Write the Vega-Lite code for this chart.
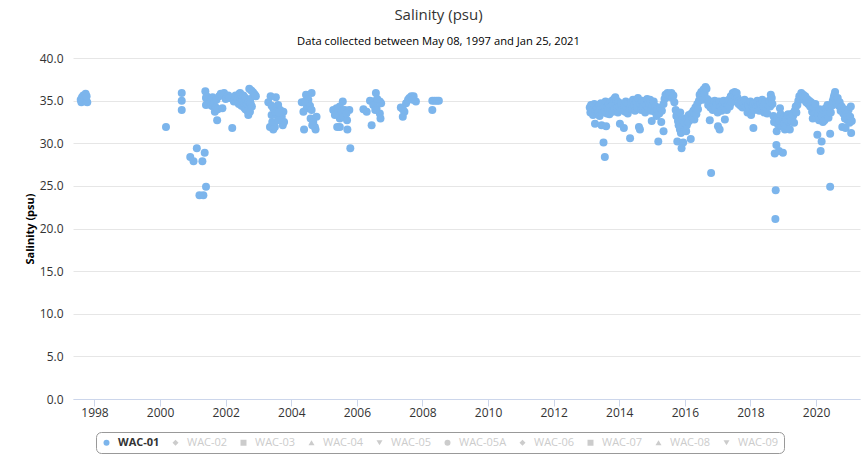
{
  "$schema": "https://vega.github.io/schema/vega-lite/v6.json",
  "width": 787,
  "height": 341,
  "autosize": "none",
  "padding": {"left": 73, "top": 58, "right": 7, "bottom": 60},
  "background": "white",
  "title": {
    "text": "Salinity (psu)",
    "subtitle": "Data collected between May 08, 1997 and Jan 25, 2021",
    "anchor": "middle",
    "dx": -28,
    "offset": 5,
    "font": "Open Sans",
    "fontSize": 15,
    "fontWeight": "normal",
    "color": "#333333",
    "subtitleFont": "Open Sans",
    "subtitleFontSize": 11.2,
    "subtitleColor": "#000000",
    "subtitlePadding": 13
  },
  "config": {
    "view": {"stroke": null},
    "font": "Open Sans",
    "axis": {"gridColor": "#e6e6e6", "labelColor": "#333333", "labelFont": "Open Sans", "labelFontSize": 12}
  },
  "data": {"values": [
    {"t":1997.58,"v":35.1,"s":"WAC-01"},{"t":1997.6,"v":34.8,"s":"WAC-01"},{"t":1997.62,"v":35.4,"s":"WAC-01"},{"t":1997.64,"v":35.0,"s":"WAC-01"},{"t":1997.66,"v":35.6,"s":"WAC-01"},{"t":1997.7,"v":35.2,"s":"WAC-01"},{"t":1997.73,"v":35.8,"s":"WAC-01"},{"t":1997.75,"v":34.9,"s":"WAC-01"},{"t":1997.78,"v":34.8,"s":"WAC-01"},{"t":1997.76,"v":35.5,"s":"WAC-01"},
    {"t":2000.18,"v":31.9,"s":"WAC-01"},{"t":2000.66,"v":35.9,"s":"WAC-01"},{"t":2000.66,"v":35.0,"s":"WAC-01"},{"t":2000.66,"v":33.9,"s":"WAC-01"},
    {"t":2000.92,"v":28.4,"s":"WAC-01"},{"t":2001.02,"v":27.9,"s":"WAC-01"},{"t":2001.12,"v":29.4,"s":"WAC-01"},{"t":2001.29,"v":27.9,"s":"WAC-01"},{"t":2001.36,"v":28.9,"s":"WAC-01"},{"t":2001.2,"v":23.9,"s":"WAC-01"},{"t":2001.32,"v":23.9,"s":"WAC-01"},{"t":2001.4,"v":24.9,"s":"WAC-01"},
    {"t":2001.38,"v":36.1,"s":"WAC-01"},{"t":2001.4,"v":35.3,"s":"WAC-01"},{"t":2001.42,"v":35.5,"s":"WAC-01"},{"t":2001.44,"v":34.6,"s":"WAC-01"},{"t":2001.46,"v":34.9,"s":"WAC-01"},{"t":2001.48,"v":35.2,"s":"WAC-01"},{"t":2001.4,"v":34.5,"s":"WAC-01"},{"t":2001.5,"v":34.7,"s":"WAC-01"},{"t":2001.52,"v":35.0,"s":"WAC-01"},{"t":2001.55,"v":35.1,"s":"WAC-01"},{"t":2001.57,"v":34.4,"s":"WAC-01"},{"t":2001.6,"v":35.4,"s":"WAC-01"},{"t":2001.62,"v":34.3,"s":"WAC-01"},{"t":2001.64,"v":34.8,"s":"WAC-01"},{"t":2001.67,"v":33.7,"s":"WAC-01"},{"t":2001.7,"v":34.2,"s":"WAC-01"},{"t":2001.72,"v":35.1,"s":"WAC-01"},{"t":2001.74,"v":32.7,"s":"WAC-01"},{"t":2001.76,"v":34.0,"s":"WAC-01"},{"t":2001.8,"v":35.5,"s":"WAC-01"},{"t":2001.85,"v":35.8,"s":"WAC-01"},{"t":2001.9,"v":34.1,"s":"WAC-01"},{"t":2001.95,"v":35.9,"s":"WAC-01"},{"t":2002.0,"v":35.2,"s":"WAC-01"},{"t":2002.03,"v":35.3,"s":"WAC-01"},{"t":2002.08,"v":35.6,"s":"WAC-01"},{"t":2002.11,"v":35.3,"s":"WAC-01"},{"t":2002.2,"v":31.8,"s":"WAC-01"},
    {"t":2002.25,"v":34.9,"s":"WAC-01"},{"t":2002.28,"v":35.1,"s":"WAC-01"},{"t":2002.3,"v":35.6,"s":"WAC-01"},{"t":2002.33,"v":34.9,"s":"WAC-01"},{"t":2002.35,"v":35.3,"s":"WAC-01"},{"t":2002.38,"v":35.5,"s":"WAC-01"},{"t":2002.4,"v":34.6,"s":"WAC-01"},{"t":2002.42,"v":35.8,"s":"WAC-01"},{"t":2002.44,"v":35.9,"s":"WAC-01"},{"t":2002.44,"v":34.7,"s":"WAC-01"},{"t":2002.46,"v":35.2,"s":"WAC-01"},{"t":2002.48,"v":34.4,"s":"WAC-01"},{"t":2002.49,"v":34.9,"s":"WAC-01"},{"t":2002.5,"v":35.6,"s":"WAC-01"},{"t":2002.52,"v":35.0,"s":"WAC-01"},{"t":2002.54,"v":34.5,"s":"WAC-01"},{"t":2002.54,"v":35.6,"s":"WAC-01"},{"t":2002.56,"v":34.2,"s":"WAC-01"},{"t":2002.57,"v":35.4,"s":"WAC-01"},{"t":2002.59,"v":35.3,"s":"WAC-01"},{"t":2002.6,"v":34.0,"s":"WAC-01"},{"t":2002.62,"v":34.8,"s":"WAC-01"},{"t":2002.64,"v":34.1,"s":"WAC-01"},{"t":2002.64,"v":35.0,"s":"WAC-01"},{"t":2002.66,"v":33.8,"s":"WAC-01"},{"t":2002.67,"v":34.6,"s":"WAC-01"},{"t":2002.69,"v":33.3,"s":"WAC-01"},{"t":2002.7,"v":34.9,"s":"WAC-01"},{"t":2002.72,"v":36.4,"s":"WAC-01"},{"t":2002.74,"v":33.7,"s":"WAC-01"},{"t":2002.75,"v":35.2,"s":"WAC-01"},{"t":2002.76,"v":34.7,"s":"WAC-01"},{"t":2002.78,"v":36.2,"s":"WAC-01"},{"t":2002.8,"v":34.3,"s":"WAC-01"},{"t":2002.83,"v":36.0,"s":"WAC-01"},{"t":2002.86,"v":35.8,"s":"WAC-01"},{"t":2002.89,"v":35.7,"s":"WAC-01"},{"t":2002.92,"v":35.5,"s":"WAC-01"},
    {"t":2003.37,"v":35.5,"s":"WAC-01"},{"t":2003.53,"v":35.4,"s":"WAC-01"},{"t":2003.3,"v":34.8,"s":"WAC-01"},{"t":2003.6,"v":34.5,"s":"WAC-01"},{"t":2003.45,"v":34.1,"s":"WAC-01"},{"t":2003.66,"v":33.9,"s":"WAC-01"},{"t":2003.76,"v":33.7,"s":"WAC-01"},{"t":2003.4,"v":33.3,"s":"WAC-01"},{"t":2003.55,"v":33.3,"s":"WAC-01"},{"t":2003.71,"v":33.1,"s":"WAC-01"},{"t":2003.35,"v":31.9,"s":"WAC-01"},{"t":2003.45,"v":31.6,"s":"WAC-01"},{"t":2003.5,"v":31.9,"s":"WAC-01"},{"t":2003.74,"v":32.1,"s":"WAC-01"},{"t":2003.78,"v":32.5,"s":"WAC-01"},{"t":2003.42,"v":32.5,"s":"WAC-01"},{"t":2003.6,"v":32.7,"s":"WAC-01"},{"t":2003.5,"v":33.7,"s":"WAC-01"},{"t":2003.4,"v":34.4,"s":"WAC-01"},{"t":2003.62,"v":33.6,"s":"WAC-01"},
    {"t":2004.45,"v":35.7,"s":"WAC-01"},{"t":2004.62,"v":35.9,"s":"WAC-01"},{"t":2004.32,"v":34.8,"s":"WAC-01"},{"t":2004.52,"v":35.1,"s":"WAC-01"},{"t":2004.47,"v":34.1,"s":"WAC-01"},{"t":2004.57,"v":34.4,"s":"WAC-01"},{"t":2004.62,"v":33.9,"s":"WAC-01"},{"t":2004.37,"v":33.7,"s":"WAC-01"},{"t":2004.59,"v":32.9,"s":"WAC-01"},{"t":2004.77,"v":33.1,"s":"WAC-01"},{"t":2004.67,"v":32.5,"s":"WAC-01"},{"t":2004.72,"v":31.9,"s":"WAC-01"},{"t":2004.74,"v":31.6,"s":"WAC-01"},{"t":2004.39,"v":31.6,"s":"WAC-01"},{"t":2004.64,"v":32.1,"s":"WAC-01"},{"t":2004.42,"v":34.9,"s":"WAC-01"},
    {"t":2005.57,"v":34.9,"s":"WAC-01"},{"t":2005.48,"v":34.3,"s":"WAC-01"},{"t":2005.28,"v":33.9,"s":"WAC-01"},{"t":2005.38,"v":34.1,"s":"WAC-01"},{"t":2005.43,"v":33.5,"s":"WAC-01"},{"t":2005.53,"v":33.7,"s":"WAC-01"},{"t":2005.63,"v":33.9,"s":"WAC-01"},{"t":2005.77,"v":33.9,"s":"WAC-01"},{"t":2005.48,"v":32.9,"s":"WAC-01"},{"t":2005.58,"v":33.1,"s":"WAC-01"},{"t":2005.7,"v":32.7,"s":"WAC-01"},{"t":2005.4,"v":31.9,"s":"WAC-01"},{"t":2005.48,"v":31.9,"s":"WAC-01"},{"t":2005.71,"v":31.6,"s":"WAC-01"},{"t":2005.8,"v":29.4,"s":"WAC-01"},{"t":2005.33,"v":33.3,"s":"WAC-01"},{"t":2005.68,"v":33.5,"s":"WAC-01"},
    {"t":2006.58,"v":35.9,"s":"WAC-01"},{"t":2006.5,"v":34.9,"s":"WAC-01"},{"t":2006.4,"v":35.0,"s":"WAC-01"},{"t":2006.7,"v":34.9,"s":"WAC-01"},{"t":2006.2,"v":34.0,"s":"WAC-01"},{"t":2006.3,"v":33.7,"s":"WAC-01"},{"t":2006.5,"v":34.5,"s":"WAC-01"},{"t":2006.6,"v":34.1,"s":"WAC-01"},{"t":2006.74,"v":34.7,"s":"WAC-01"},{"t":2006.7,"v":33.5,"s":"WAC-01"},{"t":2006.72,"v":32.9,"s":"WAC-01"},{"t":2006.45,"v":32.1,"s":"WAC-01"},{"t":2006.56,"v":33.9,"s":"WAC-01"},{"t":2006.62,"v":35.2,"s":"WAC-01"},
    {"t":2007.4,"v":33.1,"s":"WAC-01"},{"t":2007.34,"v":34.2,"s":"WAC-01"},{"t":2007.45,"v":33.7,"s":"WAC-01"},{"t":2007.5,"v":34.7,"s":"WAC-01"},{"t":2007.56,"v":35.1,"s":"WAC-01"},{"t":2007.6,"v":35.3,"s":"WAC-01"},{"t":2007.66,"v":35.5,"s":"WAC-01"},{"t":2007.73,"v":35.5,"s":"WAC-01"},{"t":2007.8,"v":34.9,"s":"WAC-01"},{"t":2007.7,"v":35.1,"s":"WAC-01"},{"t":2007.4,"v":34.0,"s":"WAC-01"},
    {"t":2008.3,"v":35.0,"s":"WAC-01"},{"t":2008.37,"v":35.0,"s":"WAC-01"},{"t":2008.44,"v":35.0,"s":"WAC-01"},{"t":2008.5,"v":35.0,"s":"WAC-01"},{"t":2008.3,"v":33.9,"s":"WAC-01"},
    {"t":2013.10,"v":34.2,"s":"WAC-01"},{"t":2013.12,"v":33.6,"s":"WAC-01"},{"t":2013.14,"v":34.5,"s":"WAC-01"},{"t":2013.16,"v":33.9,"s":"WAC-01"},{"t":2013.18,"v":34.4,"s":"WAC-01"},{"t":2013.20,"v":33.3,"s":"WAC-01"},{"t":2013.22,"v":34.0,"s":"WAC-01"},{"t":2013.24,"v":34.6,"s":"WAC-01"},{"t":2013.26,"v":32.3,"s":"WAC-01"},{"t":2013.28,"v":33.8,"s":"WAC-01"},{"t":2013.30,"v":34.3,"s":"WAC-01"},{"t":2013.32,"v":33.5,"s":"WAC-01"},{"t":2013.34,"v":34.1,"s":"WAC-01"},{"t":2013.36,"v":33.7,"s":"WAC-01"},{"t":2013.38,"v":34.5,"s":"WAC-01"},{"t":2013.40,"v":33.2,"s":"WAC-01"},{"t":2013.42,"v":34.0,"s":"WAC-01"},{"t":2013.44,"v":34.7,"s":"WAC-01"},{"t":2013.46,"v":32.1,"s":"WAC-01"},{"t":2013.48,"v":33.6,"s":"WAC-01"},{"t":2013.52,"v":30.1,"s":"WAC-01"},{"t":2013.52,"v":34.2,"s":"WAC-01"},{"t":2013.56,"v":28.4,"s":"WAC-01"},{"t":2013.56,"v":33.8,"s":"WAC-01"},{"t":2013.58,"v":34.9,"s":"WAC-01"},{"t":2013.60,"v":32.0,"s":"WAC-01"},{"t":2013.62,"v":33.5,"s":"WAC-01"},{"t":2013.64,"v":34.3,"s":"WAC-01"},
    {"t":2013.66,"v":34.0,"s":"WAC-01"},{"t":2013.68,"v":34.6,"s":"WAC-01"},{"t":2013.70,"v":33.4,"s":"WAC-01"},{"t":2013.72,"v":34.8,"s":"WAC-01"},{"t":2013.74,"v":33.9,"s":"WAC-01"},{"t":2013.76,"v":34.4,"s":"WAC-01"},{"t":2013.78,"v":35.0,"s":"WAC-01"},{"t":2013.80,"v":33.7,"s":"WAC-01"},{"t":2013.82,"v":34.5,"s":"WAC-01"},{"t":2013.84,"v":35.2,"s":"WAC-01"},{"t":2013.86,"v":34.1,"s":"WAC-01"},{"t":2013.88,"v":35.4,"s":"WAC-01"},{"t":2013.90,"v":34.7,"s":"WAC-01"},{"t":2013.92,"v":35.0,"s":"WAC-01"},{"t":2013.94,"v":34.2,"s":"WAC-01"},{"t":2013.96,"v":33.6,"s":"WAC-01"},{"t":2013.98,"v":34.8,"s":"WAC-01"},{"t":2014.00,"v":34.3,"s":"WAC-01"},{"t":2014.02,"v":32.3,"s":"WAC-01"},{"t":2014.05,"v":34.6,"s":"WAC-01"},{"t":2014.08,"v":33.9,"s":"WAC-01"},{"t":2014.10,"v":34.0,"s":"WAC-01"},{"t":2014.14,"v":31.8,"s":"WAC-01"},{"t":2014.15,"v":34.4,"s":"WAC-01"},{"t":2014.18,"v":33.7,"s":"WAC-01"},{"t":2014.20,"v":34.9,"s":"WAC-01"},{"t":2014.23,"v":34.2,"s":"WAC-01"},{"t":2014.26,"v":33.5,"s":"WAC-01"},{"t":2014.28,"v":34.6,"s":"WAC-01"},{"t":2014.33,"v":30.6,"s":"WAC-01"},{"t":2014.33,"v":34.1,"s":"WAC-01"},
    {"t":2014.36,"v":34.8,"s":"WAC-01"},{"t":2014.39,"v":34.0,"s":"WAC-01"},{"t":2014.42,"v":35.1,"s":"WAC-01"},{"t":2014.45,"v":34.4,"s":"WAC-01"},{"t":2014.48,"v":33.8,"s":"WAC-01"},{"t":2014.51,"v":34.9,"s":"WAC-01"},{"t":2014.54,"v":34.2,"s":"WAC-01"},{"t":2014.57,"v":35.3,"s":"WAC-01"},{"t":2014.60,"v":31.9,"s":"WAC-01"},{"t":2014.63,"v":31.6,"s":"WAC-01"},{"t":2014.64,"v":34.6,"s":"WAC-01"},{"t":2014.67,"v":33.9,"s":"WAC-01"},{"t":2014.70,"v":35.0,"s":"WAC-01"},{"t":2014.73,"v":34.3,"s":"WAC-01"},{"t":2014.76,"v":34.8,"s":"WAC-01"},{"t":2014.79,"v":33.6,"s":"WAC-01"},{"t":2014.82,"v":34.5,"s":"WAC-01"},{"t":2014.85,"v":35.2,"s":"WAC-01"},{"t":2014.88,"v":34.0,"s":"WAC-01"},{"t":2014.91,"v":34.7,"s":"WAC-01"},{"t":2014.94,"v":35.1,"s":"WAC-01"},{"t":2014.97,"v":33.8,"s":"WAC-01"},{"t":2014.99,"v":32.6,"s":"WAC-01"},{"t":2015.02,"v":34.4,"s":"WAC-01"},{"t":2015.05,"v":34.9,"s":"WAC-01"},{"t":2015.08,"v":33.7,"s":"WAC-01"},{"t":2015.11,"v":34.3,"s":"WAC-01"},{"t":2015.14,"v":33.2,"s":"WAC-01"},{"t":2015.17,"v":34.0,"s":"WAC-01"},{"t":2015.19,"v":30.2,"s":"WAC-01"},{"t":2015.22,"v":33.5,"s":"WAC-01"},{"t":2015.25,"v":34.2,"s":"WAC-01"},
    {"t":2015.28,"v":32.5,"s":"WAC-01"},{"t":2015.30,"v":33.8,"s":"WAC-01"},{"t":2015.35,"v":31.4,"s":"WAC-01"},{"t":2015.35,"v":34.6,"s":"WAC-01"},{"t":2015.38,"v":35.2,"s":"WAC-01"},{"t":2015.41,"v":35.7,"s":"WAC-01"},{"t":2015.44,"v":35.4,"s":"WAC-01"},{"t":2015.47,"v":35.9,"s":"WAC-01"},{"t":2015.50,"v":35.6,"s":"WAC-01"},{"t":2015.53,"v":35.8,"s":"WAC-01"},{"t":2015.56,"v":35.5,"s":"WAC-01"},{"t":2015.59,"v":35.9,"s":"WAC-01"},{"t":2015.62,"v":35.3,"s":"WAC-01"},{"t":2015.65,"v":35.6,"s":"WAC-01"},{"t":2015.68,"v":34.8,"s":"WAC-01"},
    {"t":2015.72,"v":33.9,"s":"WAC-01"},{"t":2015.74,"v":33.2,"s":"WAC-01"},{"t":2015.76,"v":33.5,"s":"WAC-01"},{"t":2015.77,"v":30.2,"s":"WAC-01"},{"t":2015.79,"v":32.6,"s":"WAC-01"},{"t":2015.81,"v":32.1,"s":"WAC-01"},{"t":2015.83,"v":32.3,"s":"WAC-01"},{"t":2015.85,"v":31.6,"s":"WAC-01"},{"t":2015.86,"v":33.6,"s":"WAC-01"},{"t":2015.88,"v":31.2,"s":"WAC-01"},{"t":2015.90,"v":29.4,"s":"WAC-01"},{"t":2015.92,"v":32.8,"s":"WAC-01"},{"t":2015.94,"v":31.8,"s":"WAC-01"},{"t":2015.95,"v":30.1,"s":"WAC-01"},{"t":2015.97,"v":32.4,"s":"WAC-01"},{"t":2016.00,"v":31.6,"s":"WAC-01"},{"t":2016.02,"v":32.9,"s":"WAC-01"},{"t":2016.04,"v":31.4,"s":"WAC-01"},{"t":2016.06,"v":32.1,"s":"WAC-01"},{"t":2016.08,"v":33.0,"s":"WAC-01"},{"t":2016.10,"v":32.5,"s":"WAC-01"},{"t":2016.12,"v":33.3,"s":"WAC-01"},{"t":2016.15,"v":32.7,"s":"WAC-01"},{"t":2016.18,"v":30.5,"s":"WAC-01"},{"t":2016.20,"v":33.5,"s":"WAC-01"},{"t":2016.23,"v":32.9,"s":"WAC-01"},
    {"t":2016.26,"v":33.8,"s":"WAC-01"},{"t":2016.29,"v":32.8,"s":"WAC-01"},{"t":2016.32,"v":34.2,"s":"WAC-01"},{"t":2016.35,"v":33.4,"s":"WAC-01"},{"t":2016.38,"v":34.6,"s":"WAC-01"},{"t":2016.40,"v":34.0,"s":"WAC-01"},{"t":2016.43,"v":35.0,"s":"WAC-01"},{"t":2016.45,"v":35.7,"s":"WAC-01"},{"t":2016.48,"v":35.3,"s":"WAC-01"},{"t":2016.50,"v":36.0,"s":"WAC-01"},{"t":2016.53,"v":35.5,"s":"WAC-01"},{"t":2016.55,"v":35.1,"s":"WAC-01"},{"t":2016.57,"v":36.3,"s":"WAC-01"},{"t":2016.60,"v":35.8,"s":"WAC-01"},{"t":2016.63,"v":36.6,"s":"WAC-01"},{"t":2016.66,"v":36.4,"s":"WAC-01"},{"t":2016.68,"v":35.2,"s":"WAC-01"},
    {"t":2016.71,"v":34.5,"s":"WAC-01"},{"t":2016.73,"v":35.0,"s":"WAC-01"},{"t":2016.76,"v":32.7,"s":"WAC-01"},{"t":2016.78,"v":34.2,"s":"WAC-01"},{"t":2016.80,"v":26.5,"s":"WAC-01"},{"t":2016.82,"v":34.8,"s":"WAC-01"},{"t":2016.85,"v":33.9,"s":"WAC-01"},{"t":2016.88,"v":34.5,"s":"WAC-01"},{"t":2016.91,"v":35.0,"s":"WAC-01"},{"t":2016.94,"v":34.1,"s":"WAC-01"},{"t":2016.97,"v":34.7,"s":"WAC-01"},{"t":2017.00,"v":33.6,"s":"WAC-01"},{"t":2017.01,"v":32.0,"s":"WAC-01"},{"t":2017.04,"v":34.9,"s":"WAC-01"},{"t":2017.06,"v":31.6,"s":"WAC-01"},{"t":2017.09,"v":34.3,"s":"WAC-01"},{"t":2017.12,"v":33.8,"s":"WAC-01"},{"t":2017.15,"v":34.6,"s":"WAC-01"},{"t":2017.18,"v":35.0,"s":"WAC-01"},{"t":2017.21,"v":34.2,"s":"WAC-01"},{"t":2017.22,"v":32.8,"s":"WAC-01"},{"t":2017.25,"v":34.7,"s":"WAC-01"},{"t":2017.28,"v":33.9,"s":"WAC-01"},
    {"t":2017.31,"v":34.5,"s":"WAC-01"},{"t":2017.34,"v":35.1,"s":"WAC-01"},{"t":2017.37,"v":34.3,"s":"WAC-01"},{"t":2017.40,"v":35.5,"s":"WAC-01"},{"t":2017.43,"v":34.8,"s":"WAC-01"},{"t":2017.46,"v":35.9,"s":"WAC-01"},{"t":2017.49,"v":35.6,"s":"WAC-01"},{"t":2017.52,"v":36.0,"s":"WAC-01"},{"t":2017.55,"v":35.4,"s":"WAC-01"},{"t":2017.58,"v":35.9,"s":"WAC-01"},{"t":2017.61,"v":35.3,"s":"WAC-01"},{"t":2017.64,"v":34.6,"s":"WAC-01"},{"t":2017.67,"v":35.0,"s":"WAC-01"},{"t":2017.70,"v":34.4,"s":"WAC-01"},{"t":2017.73,"v":34.9,"s":"WAC-01"},{"t":2017.76,"v":34.2,"s":"WAC-01"},{"t":2017.79,"v":34.7,"s":"WAC-01"},{"t":2017.82,"v":35.1,"s":"WAC-01"},{"t":2017.85,"v":34.3,"s":"WAC-01"},{"t":2017.88,"v":34.8,"s":"WAC-01"},{"t":2017.91,"v":33.6,"s":"WAC-01"},{"t":2017.94,"v":34.5,"s":"WAC-01"},{"t":2017.97,"v":34.0,"s":"WAC-01"},{"t":2018.00,"v":34.9,"s":"WAC-01"},{"t":2018.02,"v":33.3,"s":"WAC-01"},{"t":2018.06,"v":34.3,"s":"WAC-01"},
    {"t":2018.09,"v":31.8,"s":"WAC-01"},{"t":2018.09,"v":34.6,"s":"WAC-01"},{"t":2018.12,"v":33.9,"s":"WAC-01"},{"t":2018.15,"v":34.7,"s":"WAC-01"},{"t":2018.18,"v":34.2,"s":"WAC-01"},{"t":2018.21,"v":35.0,"s":"WAC-01"},{"t":2018.24,"v":34.4,"s":"WAC-01"},{"t":2018.27,"v":33.8,"s":"WAC-01"},{"t":2018.30,"v":34.6,"s":"WAC-01"},{"t":2018.33,"v":34.1,"s":"WAC-01"},{"t":2018.36,"v":35.1,"s":"WAC-01"},{"t":2018.39,"v":34.3,"s":"WAC-01"},{"t":2018.42,"v":33.6,"s":"WAC-01"},{"t":2018.45,"v":34.8,"s":"WAC-01"},{"t":2018.48,"v":34.2,"s":"WAC-01"},{"t":2018.51,"v":33.5,"s":"WAC-01"},{"t":2018.54,"v":34.5,"s":"WAC-01"},{"t":2018.57,"v":35.0,"s":"WAC-01"},{"t":2018.60,"v":34.3,"s":"WAC-01"},{"t":2018.62,"v":35.7,"s":"WAC-01"},{"t":2018.65,"v":35.3,"s":"WAC-01"},{"t":2018.67,"v":34.6,"s":"WAC-01"},
    {"t":2018.70,"v":33.2,"s":"WAC-01"},{"t":2018.72,"v":32.5,"s":"WAC-01"},{"t":2018.74,"v":28.8,"s":"WAC-01"},{"t":2018.76,"v":21.1,"s":"WAC-01"},{"t":2018.77,"v":24.5,"s":"WAC-01"},{"t":2018.79,"v":29.8,"s":"WAC-01"},{"t":2018.80,"v":31.4,"s":"WAC-01"},{"t":2018.82,"v":33.0,"s":"WAC-01"},{"t":2018.84,"v":32.2,"s":"WAC-01"},{"t":2018.87,"v":29.1,"s":"WAC-01"},{"t":2018.88,"v":32.6,"s":"WAC-01"},{"t":2018.90,"v":34.1,"s":"WAC-01"},{"t":2018.92,"v":33.4,"s":"WAC-01"},{"t":2018.95,"v":32.0,"s":"WAC-01"},{"t":2018.99,"v":28.9,"s":"WAC-01"},{"t":2019.00,"v":33.0,"s":"WAC-01"},{"t":2019.02,"v":32.3,"s":"WAC-01"},{"t":2019.05,"v":31.6,"s":"WAC-01"},{"t":2019.08,"v":32.8,"s":"WAC-01"},{"t":2019.10,"v":32.0,"s":"WAC-01"},{"t":2019.13,"v":33.3,"s":"WAC-01"},{"t":2019.15,"v":33.4,"s":"WAC-01"},{"t":2019.18,"v":32.5,"s":"WAC-01"},{"t":2019.20,"v":31.6,"s":"WAC-01"},{"t":2019.22,"v":33.0,"s":"WAC-01"},{"t":2019.25,"v":32.6,"s":"WAC-01"},{"t":2019.28,"v":33.5,"s":"WAC-01"},{"t":2019.30,"v":33.2,"s":"WAC-01"},{"t":2019.33,"v":32.4,"s":"WAC-01"},{"t":2019.35,"v":33.8,"s":"WAC-01"},{"t":2019.38,"v":34.3,"s":"WAC-01"},{"t":2019.40,"v":33.6,"s":"WAC-01"},
    {"t":2019.43,"v":34.5,"s":"WAC-01"},{"t":2019.46,"v":35.0,"s":"WAC-01"},{"t":2019.49,"v":35.5,"s":"WAC-01"},{"t":2019.52,"v":35.2,"s":"WAC-01"},{"t":2019.55,"v":35.9,"s":"WAC-01"},{"t":2019.58,"v":35.4,"s":"WAC-01"},{"t":2019.61,"v":35.7,"s":"WAC-01"},{"t":2019.64,"v":35.1,"s":"WAC-01"},{"t":2019.67,"v":35.5,"s":"WAC-01"},{"t":2019.70,"v":34.8,"s":"WAC-01"},{"t":2019.73,"v":35.2,"s":"WAC-01"},{"t":2019.76,"v":34.6,"s":"WAC-01"},{"t":2019.79,"v":35.0,"s":"WAC-01"},{"t":2019.82,"v":34.3,"s":"WAC-01"},{"t":2019.85,"v":34.8,"s":"WAC-01"},{"t":2019.88,"v":33.7,"s":"WAC-01"},{"t":2019.90,"v":32.9,"s":"WAC-01"},
    {"t":2019.92,"v":34.2,"s":"WAC-01"},{"t":2019.95,"v":33.5,"s":"WAC-01"},{"t":2019.98,"v":34.6,"s":"WAC-01"},{"t":2020.01,"v":33.0,"s":"WAC-01"},{"t":2020.04,"v":31.0,"s":"WAC-01"},{"t":2020.06,"v":33.4,"s":"WAC-01"},{"t":2020.09,"v":32.7,"s":"WAC-01"},{"t":2020.11,"v":34.0,"s":"WAC-01"},{"t":2020.14,"v":29.1,"s":"WAC-01"},{"t":2020.17,"v":30.2,"s":"WAC-01"},{"t":2020.18,"v":33.2,"s":"WAC-01"},{"t":2020.21,"v":32.5,"s":"WAC-01"},{"t":2020.24,"v":33.8,"s":"WAC-01"},{"t":2020.26,"v":32.7,"s":"WAC-01"},{"t":2020.29,"v":34.1,"s":"WAC-01"},{"t":2020.32,"v":33.4,"s":"WAC-01"},{"t":2020.35,"v":34.5,"s":"WAC-01"},{"t":2020.38,"v":33.0,"s":"WAC-01"},{"t":2020.43,"v":31.1,"s":"WAC-01"},{"t":2020.43,"v":24.9,"s":"WAC-01"},{"t":2020.45,"v":33.6,"s":"WAC-01"},{"t":2020.48,"v":34.4,"s":"WAC-01"},
    {"t":2020.51,"v":35.0,"s":"WAC-01"},{"t":2020.54,"v":35.4,"s":"WAC-01"},{"t":2020.56,"v":35.7,"s":"WAC-01"},{"t":2020.58,"v":36.0,"s":"WAC-01"},{"t":2020.60,"v":35.1,"s":"WAC-01"},{"t":2020.63,"v":34.7,"s":"WAC-01"},{"t":2020.66,"v":35.3,"s":"WAC-01"},{"t":2020.69,"v":34.4,"s":"WAC-01"},{"t":2020.72,"v":34.8,"s":"WAC-01"},{"t":2020.75,"v":33.8,"s":"WAC-01"},{"t":2020.78,"v":34.3,"s":"WAC-01"},{"t":2020.80,"v":31.9,"s":"WAC-01"},{"t":2020.83,"v":33.5,"s":"WAC-01"},{"t":2020.86,"v":34.0,"s":"WAC-01"},{"t":2020.88,"v":32.9,"s":"WAC-01"},{"t":2020.90,"v":31.8,"s":"WAC-01"},{"t":2020.93,"v":33.4,"s":"WAC-01"},{"t":2020.96,"v":32.7,"s":"WAC-01"},{"t":2020.99,"v":33.9,"s":"WAC-01"},{"t":2021.02,"v":32.4,"s":"WAC-01"},{"t":2021.04,"v":33.1,"s":"WAC-01"},{"t":2021.07,"v":31.2,"s":"WAC-01"},{"t":2021.06,"v":34.3,"s":"WAC-01"},{"t":2021.09,"v":32.6,"s":"WAC-01"}
  ]},
  "mark": {"type": "point", "filled": true, "opacity": 1, "size": 64},
  "encoding": {
    "x": {
      "field": "t", "type": "quantitative",
      "scale": {"domain": [1997.345, 2021.34], "nice": false, "zero": false},
      "axis": {
        "title": null, "values": [1998, 2000, 2002, 2004, 2006, 2008, 2010, 2012, 2014, 2016, 2018, 2020],
        "format": "d", "grid": false, "domainColor": "#ccd6eb", "tickColor": "#ccd6eb", "tickSize": 7, "labelPadding": 1
      }
    },
    "y": {
      "field": "v", "type": "quantitative",
      "scale": {"domain": [0, 40], "nice": false},
      "axis": {
        "title": "Salinity (psu)", "values": [0, 5, 10, 15, 20, 25, 30, 35, 40], "format": ".1f",
        "domain": false, "ticks": false, "labelPadding": 10,
        "titleFont": "Open Sans", "titleFontSize": 11, "titleFontWeight": "bold", "titleColor": "#000000", "titlePadding": 4
      }
    },
    "color": {
      "field": "s", "type": "nominal",
      "scale": {
        "domain": ["WAC-01", "WAC-02", "WAC-03", "WAC-04", "WAC-05", "WAC-05A", "WAC-06", "WAC-07", "WAC-08", "WAC-09"],
        "range": ["#7cb5ec", "#cccccc", "#cccccc", "#cccccc", "#cccccc", "#cccccc", "#cccccc", "#cccccc", "#cccccc", "#cccccc"]
      },
      "legend": {
        "title": null, "orient": "none", "legendX": 23, "legendY": 374, "direction": "horizontal", "columns": 10,
        "padding": 5, "strokeColor": "#999999", "cornerRadius": 5, "fillColor": "#ffffff",
        "labelFont": "Open Sans", "labelFontSize": 11, "labelOffset": 6, "columnPadding": 10, "symbolSize": 36,
        "labelColor": {"expr": "datum.value === 'WAC-01' ? '#333333' : '#cccccc'"},
        "labelFontWeight": {"expr": "datum.value === 'WAC-01' ? 'bold' : 'normal'"}
      }
    },
    "shape": {
      "field": "s", "type": "nominal",
      "scale": {
        "domain": ["WAC-01", "WAC-02", "WAC-03", "WAC-04", "WAC-05", "WAC-05A", "WAC-06", "WAC-07", "WAC-08", "WAC-09"],
        "range": ["circle", "diamond", "square", "triangle-up", "triangle-down", "circle", "diamond", "square", "triangle-up", "triangle-down"]
      }
    }
  }
}
